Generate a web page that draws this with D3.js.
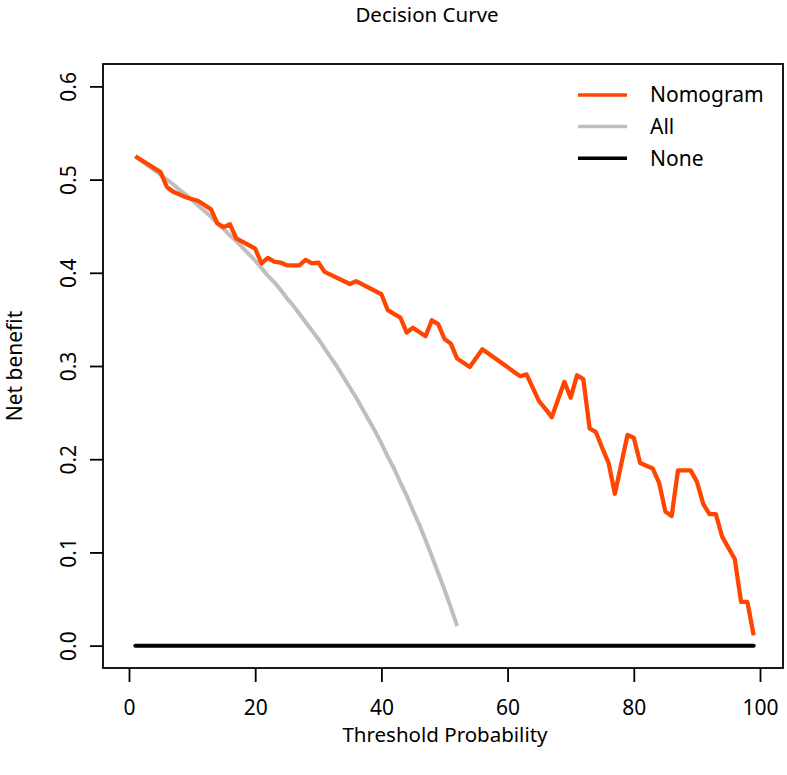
<!DOCTYPE html>
<html>
<head>
<meta charset="utf-8">
<script src="https://cdn.jsdelivr.net/npm/d3@7"></script>
<style>
  html, body { margin: 0; padding: 0; background: #fff; }
  svg text { font-family: "Noto Sans", "Open Sans", sans-serif; fill: #000; }
</style>
</head>
<body>
<svg id="chart" width="787" height="775"></svg>
<script>
// ---- data ----
const xTicks = [0, 20, 40, 60, 80, 100];
const yTicks = [0.0, 0.1, 0.2, 0.3, 0.4, 0.5, 0.6];
const yTickLabels = ["0.0", "0.1", "0.2", "0.3", "0.4", "0.5", "0.6"];

const nomThreshold = [1, 5, 6, 7, 9, 11, 13, 14, 15, 16, 17, 20, 21, 22, 23, 24, 25, 27, 28, 29, 30, 31, 35, 36, 40, 41, 43, 44, 45, 47, 48, 49, 50, 51, 52, 54, 56, 62, 63, 65, 66, 67, 69, 70, 71, 72, 73, 74, 75, 76, 77, 79, 80, 81, 83, 84, 85, 86, 87, 89, 90, 91, 92, 93, 94, 96, 97, 98, 99];
const nomBenefit = [0.525, 0.508, 0.492, 0.487, 0.481, 0.477, 0.468, 0.453, 0.449, 0.452, 0.437, 0.426, 0.410, 0.416, 0.412, 0.411, 0.408, 0.408, 0.414, 0.410, 0.411, 0.401, 0.388, 0.391, 0.377, 0.360, 0.352, 0.336, 0.341, 0.332, 0.349, 0.345, 0.329, 0.324, 0.308, 0.299, 0.318, 0.289, 0.291, 0.262, 0.254, 0.245, 0.283, 0.266, 0.290, 0.286, 0.233, 0.229, 0.212, 0.196, 0.163, 0.226, 0.223, 0.196, 0.190, 0.175, 0.144, 0.139, 0.188, 0.188, 0.176, 0.152, 0.141, 0.141, 0.117, 0.093, 0.047, 0.047, 0.011];

const allThreshold = [1, 2, 3, 4, 5, 6, 7, 8, 9, 10, 11, 12, 13, 14, 15, 16, 17, 18, 19, 20, 21, 22, 23, 24, 25, 26, 27, 28, 29, 30, 31, 32, 33, 34, 35, 36, 37, 38, 39, 40, 41, 42, 43, 44, 45, 46, 47, 48, 49, 50, 51, 52];
const allBenefit = [0.525, 0.520, 0.515, 0.510, 0.505, 0.500, 0.495, 0.489, 0.484, 0.478, 0.472, 0.466, 0.460, 0.453, 0.447, 0.440, 0.434, 0.427, 0.420, 0.413, 0.405, 0.397, 0.390, 0.382, 0.373, 0.365, 0.356, 0.347, 0.338, 0.329, 0.319, 0.309, 0.299, 0.288, 0.277, 0.266, 0.254, 0.242, 0.230, 0.217, 0.203, 0.190, 0.175, 0.161, 0.145, 0.130, 0.113, 0.096, 0.078, 0.060, 0.041, 0.021];

const noneThreshold = [1, 99];
const noneBenefit = [0, 0];

const seriesNames = ["Nomogram", "All", "None"];
const seriesColors = ["#FF4500", "#BEBEBE", "#000000"];

// ---- layout ----
const box = { left: 103, right: 783, top: 64, bottom: 668 };
const svg = d3.select("#chart");

const x = d3.scaleLinear().domain([0, 100]).range([129, 760]);
const y = d3.scaleLinear().domain([-0.024, 0.624]).range([box.bottom, box.top]);

// box
svg.append("rect")
  .attr("x", box.left).attr("y", box.top)
  .attr("width", box.right - box.left).attr("height", box.bottom - box.top)
  .attr("fill", "none").attr("stroke", "#000").attr("stroke-width", 1.8);

// x axis
const xAxis = svg.append("g")
  .attr("transform", `translate(0,${box.bottom})`)
  .call(d3.axisBottom(x).tickValues(xTicks).tickSize(14).tickPadding(0).tickFormat(d3.format("d")));
xAxis.select(".domain").remove();
xAxis.selectAll("line").attr("stroke", "#000").attr("stroke-width", 1.8);
xAxis.selectAll("text")
  .attr("y", 47).attr("dy", null)
  .style("font-size", "21px").style("font-family", "'Noto Sans', sans-serif");

// y axis
const yAxis = svg.append("g")
  .attr("transform", `translate(${box.left},0)`)
  .call(d3.axisLeft(y).tickValues(yTicks).tickSize(13).tickFormat((d, i) => yTickLabels[i]));
yAxis.select(".domain").remove();
yAxis.selectAll("line").attr("stroke", "#000").attr("stroke-width", 1.8);
yAxis.selectAll("text")
  .attr("x", null).attr("dy", null)
  .attr("text-anchor", "middle")
  .attr("transform", "translate(-27,0) rotate(-90)")
  .style("font-size", "21px").style("font-family", "'Noto Sans', sans-serif");

// lines
const line = d3.line().x(d => x(d[0])).y(d => y(d[1]));

svg.append("path")
  .datum(noneThreshold.map((t, i) => [t, noneBenefit[i]]))
  .attr("d", line).attr("fill", "none")
  .attr("stroke", seriesColors[2]).attr("stroke-width", 4).attr("stroke-linecap", "round");

svg.append("path")
  .datum(allThreshold.map((t, i) => [t, allBenefit[i]]))
  .attr("d", line).attr("fill", "none")
  .attr("stroke", seriesColors[1]).attr("stroke-width", 4).attr("stroke-linejoin", "round");

svg.append("path")
  .datum(nomThreshold.map((t, i) => [t, nomBenefit[i]]))
  .attr("d", line).attr("fill", "none")
  .attr("stroke", seriesColors[0]).attr("stroke-width", 4.3).attr("stroke-linejoin", "round");

// legend
const legend = svg.append("g");
seriesNames.forEach((name, i) => {
  const ly = 95 + i * 31.6;
  legend.append("line")
    .attr("x1", 578).attr("x2", 627).attr("y1", ly).attr("y2", ly)
    .attr("stroke", seriesColors[i]).attr("stroke-width", 3.5);
  legend.append("text")
    .attr("x", 650).attr("y", ly).attr("dy", "0.35em")
    .style("font-size", "21px").text(name);
});

// titles
svg.append("text")
  .attr("x", 427).attr("y", 22)
  .attr("text-anchor", "middle")
  .style("font-size", "20.5px").text("Decision Curve");

svg.append("text")
  .attr("x", 445).attr("y", 742)
  .attr("text-anchor", "middle")
  .style("font-size", "20.5px").text("Threshold Probability");

svg.append("text")
  .attr("transform", `translate(22,${(box.top + box.bottom) / 2}) rotate(-90)`)
  .attr("text-anchor", "middle")
  .style("font-size", "21px").text("Net benefit");
</script>
</body>
</html>
